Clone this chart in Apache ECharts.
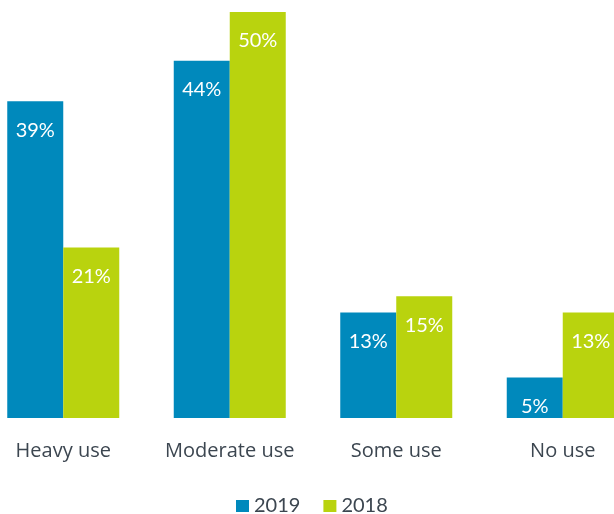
<!DOCTYPE html>
<html>
<head>
<meta charset="utf-8">
<script src="https://cdn.jsdelivr.net/npm/echarts@6/dist/echarts.min.js"></script>
<style>
html,body{margin:0;padding:0;background:#fff;overflow:hidden;width:614px;height:514px;}
#c{position:absolute;left:-20px;top:0;width:666px;height:514px;}
</style>
</head>
<body>
<div id="c"></div>
<script>
const categories = ['Heavy use', 'Moderate use', 'Some use', 'No use'];
const values2019 = [39, 44, 13, 5];
const values2018 = [21, 50, 15, 13];
const seriesNames = ['2019', '2018'];

const chart = echarts.init(document.getElementById('c'));
const FONT = 'Lato';
const labelStyle = {
  show: true,
  position: 'insideTop',
  distance: 19,
  color: '#ffffff',
  fontFamily: FONT,
  fontSize: 20,
  formatter: '{c}%'
};
chart.setOption({
  animation: false,
  grid: { left: 0, right: 0, top: 12, bottom: 96, containLabel: false },
  legend: {
    data: seriesNames,
    left: 256,
    top: 496,
    itemWidth: 13,
    itemHeight: 12,
    itemGap: 23,
    icon: 'rect',
    textStyle: { color: '#3c4650', fontFamily: FONT, fontSize: 20, padding: [0, 0, 0, 0] },
    padding: 0
  },
  xAxis: {
    type: 'category',
    data: categories,
    axisLine: { show: false },
    axisTick: { show: false },
    axisLabel: { interval: 0, color: '#3c4650', fontFamily: 'Open Sans', fontSize: 20, margin: 23 }
  },
  yAxis: {
    type: 'value',
    min: 0,
    max: 50,
    show: false,
    splitLine: { show: false }
  },
  series: [
    { name: seriesNames[0], type: 'bar', data: values2019, barWidth: 56, barGap: '0%',
      itemStyle: { color: '#0089bc' }, label: labelStyle },
    { name: seriesNames[1], type: 'bar', data: values2018, barWidth: 56, barGap: '0%',
      itemStyle: { color: '#b9d30e' }, label: labelStyle }
  ]
});
</script>
</body>
</html>
